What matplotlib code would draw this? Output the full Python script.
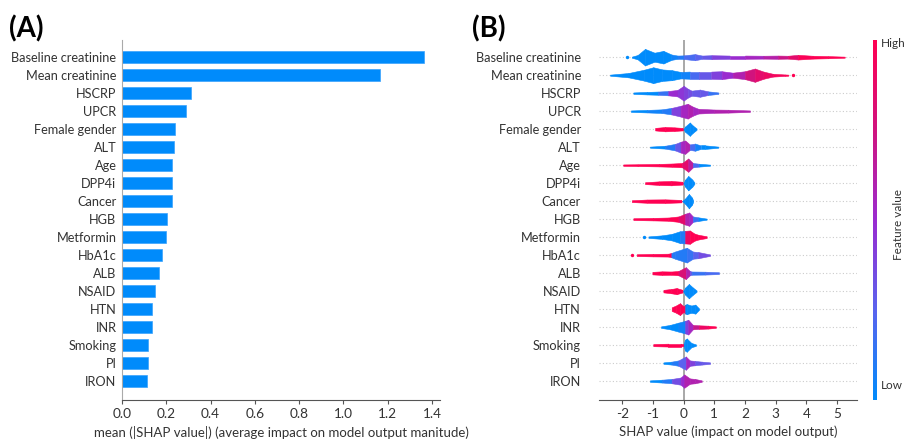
import numpy as np
import matplotlib
matplotlib.use("Agg")
import matplotlib.pyplot as plt
from matplotlib.colors import LinearSegmentedColormap
from matplotlib.cm import ScalarMappable

plt.rcParams['font.family'] = ['Lato', 'DejaVu Sans']

features = ['Baseline creatinine', 'Mean creatinine', 'HSCRP', 'UPCR', 'Female gender',
            'ALT', 'Age', 'DPP4i', 'Cancer', 'HGB', 'Metformin', 'HbA1c', 'ALB',
            'NSAID', 'HTN', 'INR', 'Smoking', 'PI', 'IRON']

mean_abs_shap = [1.364, 1.165, 0.313, 0.290, 0.239, 0.236, 0.227, 0.224, 0.224, 0.203,
                 0.197, 0.179, 0.165, 0.150, 0.137, 0.137, 0.119, 0.116, 0.111]

# beeswarm outline: (shap value, half thickness, feature value 0-1)
# colour of a knot is used up to the next knot
swarm_profiles = [
    [(-1.69, 0.03, 0.0), (-1.50, 0.12, 0.0), (-1.26, 0.46, 0.0), (-0.95, 0.25, 0.0), (-0.66, 0.35, 0.0),
     (-0.40, 0.15, 0.05), (-0.20, 0.09, 0.1), (0.0, 0.10, 0.2), (0.37, 0.17, 0.25), (0.6, 0.09, 0.3),
     (0.91, 0.11, 0.4), (1.5, 0.09, 0.5), (2.0, 0.09, 0.55), (2.6, 0.08, 0.62), (3.08, 0.09, 0.72),
     (3.4, 0.08, 0.85), (3.73, 0.13, 0.97), (4.2, 0.08, 1.0), (4.7, 0.06, 1.0), (5.25, 0.03, 1.0)],
    [(-2.4, 0.03, 0.0), (-1.8, 0.12, 0.0), (-1.3, 0.30, 0.0), (-0.99, 0.44, 0.0), (-0.7, 0.32, 0.0),
     (-0.39, 0.28, 0.0), (-0.1, 0.18, 0.05), (0.2, 0.2, 0.2), (0.5, 0.2, 0.3), (0.9, 0.2, 0.4),
     (1.24, 0.22, 0.5), (1.6, 0.14, 0.6), (2.0, 0.22, 0.75), (2.32, 0.37, 0.85), (2.6, 0.2, 0.9),
     (2.9, 0.08, 0.95), (3.3, 0.04, 1.0), (3.41, 0.03, 1.0)],
    [(-1.64, 0.04, 0.0), (-1.2, 0.07, 0.0), (-0.83, 0.09, 0.15), (-0.5, 0.12, 0.5), (-0.2, 0.18, 0.45),
     (0.0, 0.41, 0.4), (0.13, 0.25, 0.35), (0.26, 0.14, 0.3), (0.53, 0.2, 0.3), (0.8, 0.1, 0.15),
     (1.13, 0.04, 0.1)],
    [(-1.72, 0.04, 0.0), (-1.2, 0.07, 0.05), (-0.72, 0.1, 0.1), (-0.4, 0.18, 0.4), (-0.1, 0.3, 0.55),
     (0.13, 0.41, 0.6), (0.3, 0.25, 0.55), (0.48, 0.13, 0.58), (1.0, 0.09, 0.6), (1.45, 0.08, 0.6),
     (2.16, 0.04, 0.6)],
    [(-0.93, 0.07, 1.0), (-0.6, 0.12, 1.0), (-0.3, 0.10, 1.0), (-0.04, 0.07, 1.0), (-0.01, 0.0, 0.0),
     (0.05, 0.15, 0.0), (0.2, 0.37, 0.0), (0.3, 0.2, 0.0), (0.42, 0.04, 0.0)],
    [(-1.1, 0.03, 0.0), (-0.6, 0.08, 0.1), (-0.28, 0.18, 0.3), (-0.1, 0.3, 0.55), (0.05, 0.37, 0.6),
     (0.2, 0.15, 0.2), (0.37, 0.2, 0.05), (0.55, 0.1, 0.0), (0.7, 0.1, 0.0), (1.13, 0.03, 0.0)],
    [(-1.97, 0.04, 1.0), (-1.5, 0.05, 1.0), (-0.8, 0.07, 1.0), (-0.39, 0.09, 1.0), (-0.05, 0.12, 0.85),
     (0.15, 0.37, 0.65), (0.3, 0.12, 0.2), (0.5, 0.08, 0.0), (0.86, 0.03, 0.0)],
    [(-1.26, 0.05, 1.0), (-0.8, 0.1, 1.0), (-0.4, 0.12, 1.0), (-0.05, 0.08, 1.0), (-0.01, 0.0, 0.0),
     (0.05, 0.2, 0.0), (0.15, 0.40, 0.0), (0.28, 0.2, 0.0), (0.35, 0.04, 0.0)],
    [(-1.69, 0.05, 1.0), (-1.2, 0.09, 1.0), (-0.6, 0.1, 1.0), (-0.09, 0.07, 1.0), (-0.05, 0.0, 0.0),
     (0.05, 0.15, 0.0), (0.17, 0.40, 0.0), (0.27, 0.2, 0.0), (0.31, 0.04, 0.0)],
    [(-1.64, 0.05, 1.0), (-1.0, 0.07, 1.0), (-0.5, 0.09, 1.0), (-0.17, 0.15, 0.85), (0.05, 0.3, 0.6),
     (0.18, 0.37, 0.55), (0.3, 0.15, 0.15), (0.48, 0.1, 0.0), (0.75, 0.03, 0.0)],
    [(-1.15, 0.04, 0.0), (-0.7, 0.1, 0.0), (-0.39, 0.18, 0.0), (-0.12, 0.33, 0.1), (0.05, 0.35, 0.9),
     (0.2, 0.37, 1.0), (0.35, 0.2, 1.0), (0.48, 0.13, 1.0), (0.75, 0.05, 1.0)],
    [(-1.53, 0.05, 1.0), (-1.0, 0.07, 1.0), (-0.5, 0.08, 1.0), (-0.4, 0.12, 0.1), (-0.28, 0.2, 0.1),
     (0.1, 0.41, 0.15), (0.3, 0.2, 0.25), (0.48, 0.17, 0.35), (0.86, 0.04, 0.5)],
    [(-1.02, 0.07, 1.0), (-0.7, 0.1, 1.0), (-0.4, 0.09, 1.0), (-0.17, 0.12, 0.8), (0.07, 0.33, 0.6),
     (0.2, 0.12, 0.3), (0.26, 0.09, 0.15), (0.7, 0.08, 0.2), (1.15, 0.05, 0.2)],
    [(-0.66, 0.07, 1.0), (-0.4, 0.12, 1.0), (-0.23, 0.17, 1.0), (-0.05, 0.08, 1.0), (-0.02, 0.0, 0.0),
     (0.05, 0.2, 0.0), (0.17, 0.40, 0.0), (0.3, 0.2, 0.0), (0.42, 0.04, 0.0)],
    [(-0.39, 0.1, 1.0), (-0.25, 0.2, 1.0), (-0.12, 0.33, 1.0), (0.0, 0.15, 1.0), (0.05, 0.25, 0.0),
     (0.1, 0.28, 0.0), (0.25, 0.2, 0.0), (0.38, 0.25, 0.0), (0.5, 0.04, 0.0)],
    [(-0.74, 0.04, 0.0), (-0.45, 0.12, 0.0), (-0.17, 0.25, 0.05), (0.05, 0.35, 0.4), (0.15, 0.41, 0.55),
     (0.3, 0.12, 0.7), (0.5, 0.1, 0.9), (0.8, 0.08, 1.0), (1.05, 0.04, 1.0)],
    [(-0.99, 0.06, 1.0), (-0.5, 0.08, 1.0), (-0.1, 0.08, 1.0), (0.0, 0.05, 0.0), (0.04, 0.3, 0.0),
     (0.1, 0.37, 0.0), (0.25, 0.12, 0.0), (0.4, 0.04, 0.0)],
    [(-0.66, 0.04, 0.0), (-0.4, 0.08, 0.1), (-0.17, 0.15, 0.25), (0.07, 0.37, 0.55), (0.2, 0.15, 0.4),
     (0.37, 0.12, 0.3), (0.6, 0.08, 0.3), (0.86, 0.04, 0.3)],
    [(-1.1, 0.04, 0.0), (-0.7, 0.08, 0.1), (-0.39, 0.12, 0.35), (-0.1, 0.2, 0.5), (0.02, 0.37, 0.6),
     (0.2, 0.15, 0.6), (0.37, 0.12, 0.6), (0.59, 0.04, 0.6)],
]

# lone points outside the swarms: (feature, shap value, feature value)
outliers = [('Baseline creatinine', -1.86, 0.0), ('Mean creatinine', 3.57, 1.0),
            ('Metformin', -1.28, 0.0), ('HbA1c', -1.69, 1.0)]

bar_ticks = [0.0, 0.2, 0.4, 0.6, 0.8, 1.0, 1.2, 1.4]
shap_ticks = [-2, -1, 0, 1, 2, 3, 4, 5]

shap_cmap = LinearSegmentedColormap.from_list(
    'shap_rb', ['#008bfb', '#5a63ee', '#9a2bd0', '#d0137e', '#ff0052'])

txt = '#333333'
fs = 9.2
n = len(features)
ypos = np.arange(n)[::-1]

fig = plt.figure(figsize=(9.07, 4.40), dpi=100)

# ---------------- (A) bar chart ----------------
ax1 = fig.add_axes([0.1345, 0.0909, 0.3506, 0.818])
ax1.barh(ypos, mean_abs_shap, height=0.68, color='#008bfb', edgecolor='#3aa2fc', linewidth=0.5)
ax1.set_xlim(0, 1.436)
ax1.set_ylim(-1.05, n - 0.05)
ax1.set_yticks(ypos)
ax1.set_yticklabels(features, fontsize=fs, color=txt)
ax1.tick_params(axis='y', length=0, pad=4)
ax1.set_xticks(bar_ticks)
ax1.set_xticklabels(['%.1f' % t for t in bar_ticks], fontsize=fs + 0.6, color=txt)
ax1.tick_params(axis='x', length=3, color='#555555', pad=3)
ax1.spines['top'].set_visible(False)
ax1.spines['right'].set_visible(False)
ax1.spines['left'].set_color('#aaaaaa')
ax1.spines['bottom'].set_color('#555555')
ax1.set_xlabel('mean (|SHAP value|) (average impact on model output manitude)', fontsize=fs + 0.3,
               color=txt, labelpad=4)
fig.text(0.010, 0.935, '(A)', fontsize=20, fontweight='bold', va='center')

# ---------------- (B) beeswarm ----------------
ax2 = fig.add_axes([0.6604, 0.0909, 0.2845, 0.818])
ax2.set_xlim(-2.76, 5.65)
ax2.set_ylim(-1.05, n - 0.05)
for y in ypos:
    ax2.axhline(y, color='#cccccc', lw=0.8, linestyle=(0, (1, 2)), zorder=0)
ax2.axvline(0, color='#999999', lw=1.2, zorder=1)

for prof, y in zip(swarm_profiles, ypos):
    for k in range(len(prof) - 1):
        x0, h0, c0 = prof[k]
        x1, h1, _ = prof[k + 1]
        col = shap_cmap(c0)
        ax2.fill_between([x0, x1], [y - h0, y - h1], [y + h0, y + h1],
                         facecolor=col, edgecolor=col, linewidth=0.4, zorder=2)
for name, v, c in outliers:
    ax2.scatter(v, ypos[features.index(name)], s=6, color=shap_cmap(c), linewidths=0, zorder=3)

ax2.set_yticks(ypos)
ax2.set_yticklabels(features, fontsize=fs, color=txt)
ax2.tick_params(axis='y', length=0, pad=13)
ax2.set_xticks(shap_ticks)
ax2.set_xticklabels([str(t) for t in shap_ticks], fontsize=fs + 0.6, color=txt)
ax2.tick_params(axis='x', length=3, color='#555555', pad=3)
for s in ['top', 'right', 'left']:
    ax2.spines[s].set_visible(False)
ax2.spines['bottom'].set_color('#555555')
ax2.set_xlabel('SHAP value (impact on model output)', fontsize=fs + 0.3, color=txt, labelpad=4)
fig.text(0.520, 0.935, '(B)', fontsize=20, fontweight='bold', va='center')

# colour bar
cax = fig.add_axes([0.9625, 0.0909, 0.0044, 0.818])
sm = ScalarMappable(cmap=shap_cmap)
sm.set_array([0, 1])
cb = fig.colorbar(sm, cax=cax)
cb.set_ticks([])
cb.outline.set_visible(False)
cax.text(2.0, 0.99, 'High', transform=cax.transAxes, fontsize=8.5, color=txt, va='center', ha='left')
cax.text(2.0, 0.04, 'Low', transform=cax.transAxes, fontsize=8.5, color=txt, va='center', ha='left')
fig.text(0.9905, 0.49, 'Feature value', rotation=90, fontsize=8.5, color=txt, va='center', ha='center')

fig.savefig('out.png', dpi=100)
